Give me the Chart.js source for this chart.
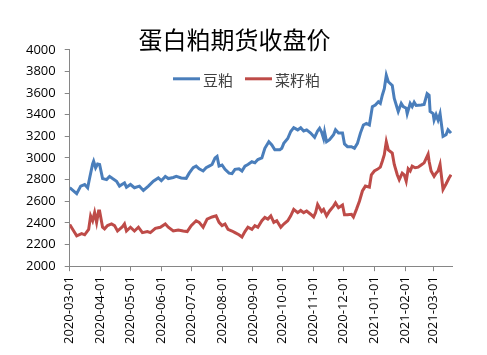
<!DOCTYPE html>
<html>
<head>
<meta charset="utf-8">
<script src="https://cdn.jsdelivr.net/npm/chart.js@4/dist/chart.umd.min.js"></script>
<style>
html,body{margin:0;padding:0;background:#fff;}
#wrap{width:487px;height:355px;}
</style>
</head>
<body>
<div id="wrap"><canvas id="c" width="487" height="355"></canvas></div>
<script>
// Days counted from 2020-03-01
const START_DATE = '2020-03-01';
const monthTicks = [0, 31, 61, 92, 122, 153, 184, 214, 245, 275, 306, 337, 365];

const soyDays = [0,2,7,11,15,18,20,23,24,26,28,30,33,37,40,43,47,50,55,57,61,65,70,74,79,84,89,92,96,99,104,107,112,117,120,124,127,130,134,137,140,143,146,148,150,153,156,160,163,166,170,173,176,179,183,186,189,193,196,200,203,206,211,213,215,219,222,225,229,232,235,238,242,246,249,251,253,255,256,258,261,265,267,270,274,276,279,283,286,289,292,295,298,301,304,307,310,312,314,316,318,320,324,326,329,330,333,335,338,339,342,344,346,348,353,356,359,361,362,365,366,368,370,372,375,378,380,383];
const soyValues = [2725,2710,2670,2740,2755,2725,2815,2945,2970,2910,2945,2940,2810,2800,2830,2810,2785,2740,2770,2730,2755,2725,2740,2700,2740,2785,2815,2790,2830,2810,2820,2830,2815,2812,2860,2910,2925,2900,2880,2910,2925,2940,3000,3015,2925,2935,2895,2860,2855,2895,2900,2880,2925,2940,2965,2955,2985,3000,3090,3150,3120,3075,3075,3090,3135,3180,3245,3280,3260,3280,3250,3260,3230,3190,3250,3275,3240,3180,3240,3150,3170,3215,3260,3230,3230,3130,3105,3105,3090,3135,3230,3305,3320,3305,3475,3490,3520,3505,3580,3640,3765,3705,3670,3550,3460,3430,3505,3475,3460,3410,3505,3475,3515,3485,3490,3495,3595,3580,3430,3410,3350,3400,3350,3410,3200,3215,3260,3230];

const rapeDays = [0,4,7,12,15,19,21,23,25,27,29,30,33,35,38,42,45,48,53,55,57,61,65,69,73,78,81,86,91,96,99,104,109,114,118,122,127,130,134,138,143,147,150,153,156,159,163,166,170,173,176,179,183,186,189,193,196,199,202,205,208,212,215,219,222,225,229,232,235,238,242,245,247,249,253,255,258,261,265,267,270,274,276,279,283,285,288,291,294,297,301,303,306,309,312,314,316,318,320,324,326,329,331,334,336,338,340,342,344,347,350,353,356,360,361,363,366,368,370,372,375,378,381,383];
const rapeValues = [2385,2325,2280,2300,2290,2340,2465,2420,2495,2405,2510,2510,2360,2345,2375,2390,2375,2325,2365,2390,2325,2360,2325,2360,2310,2320,2310,2350,2360,2390,2360,2325,2335,2325,2320,2375,2420,2405,2360,2435,2455,2465,2405,2375,2390,2340,2325,2310,2290,2270,2320,2360,2340,2375,2360,2420,2450,2435,2465,2405,2420,2360,2390,2420,2465,2525,2495,2515,2495,2510,2480,2455,2495,2570,2505,2525,2465,2510,2555,2585,2540,2565,2475,2475,2480,2455,2525,2600,2695,2740,2730,2845,2880,2895,2915,2970,3030,3150,3075,3045,2940,2845,2800,2860,2845,2785,2900,2880,2925,2910,2915,2935,2955,3035,2970,2880,2830,2860,2880,2940,2710,2760,2815,2845];

const seriesNames = ['豆粕', '菜籽粕'];
const titleText = '蛋白粕期货收盘价';

function toPoints(xs, ys){ return xs.map((d,i)=>({x:d, y:ys[i]})); }
function dayLabel(v){
  const d = new Date(Date.parse(START_DATE + 'T00:00:00Z') + v*86400000);
  const p = n => String(n).padStart(2,'0');
  return d.getUTCFullYear() + '-' + p(d.getUTCMonth()+1) + '-' + p(d.getUTCDate());
}

const axisColor = '#868686';
const tickFont = {family: "'Open Sans', 'Noto Sans', sans-serif", size: 13};
const legendFont = "15px 'Noto Sans CJK SC', sans-serif";

// Legend drawn inside the plot area, centred near the top (as in the reference)
const insideLegend = {
  id: 'insideLegend',
  afterDraw(chart) {
    const ctx = chart.ctx;
    const ds = chart.data.datasets;
    const lineW = 27, gap = 3, itemGap = 12;
    ctx.save();
    ctx.font = legendFont;
    ctx.textBaseline = 'middle';
    const widths = ds.map(d => lineW + gap + ctx.measureText(d.label).width);
    const total = widths.reduce((a,b)=>a+b,0) + itemGap*(ds.length-1);
    let x = 246.5 - total/2;
    const y = chart.chartArea.top + 29;
    ds.forEach((d,i) => {
      ctx.strokeStyle = d.borderColor;
      ctx.lineWidth = 3;
      ctx.beginPath();
      ctx.moveTo(x, y);
      ctx.lineTo(x + lineW, y);
      ctx.stroke();
      ctx.fillStyle = '#404040';
      ctx.fillText(d.label, x + lineW + gap, y + 1);
      x += widths[i] + itemGap;
    });
    ctx.restore();
  }
};

new Chart(document.getElementById('c'), {
  type: 'line',
  data: {
    datasets: [
      {label: seriesNames[0], data: toPoints(soyDays, soyValues), borderColor: '#4a7ebb', backgroundColor: '#4a7ebb', borderWidth: 3, pointRadius: 0, tension: 0},
      {label: seriesNames[1], data: toPoints(rapeDays, rapeValues), borderColor: '#be4b48', backgroundColor: '#be4b48', borderWidth: 3, pointRadius: 0, tension: 0}
    ]
  },
  options: {
    responsive: false,
    animation: false,
    events: [],
    layout: {padding: {left: 17, right: 35, top: 0, bottom: 6}},
    plugins: {
      title: {display: true, text: titleText, color: '#000', font: {family: "'Noto Sans CJK SC', sans-serif", size: 24, weight: 'normal'}, padding: {top: 25, bottom: -4}},
      legend: {display: false},
      tooltip: {enabled: false}
    },
    scales: {
      x: {
        type: 'linear', min: 0, max: 384,
        afterBuildTicks: (s) => { s.ticks = monthTicks.map(v => ({value: v})); },
        ticks: {callback: (v) => dayLabel(v), minRotation: 90, maxRotation: 90, autoSkip: false, color: '#000', font: tickFont, padding: 5},
        grid: {drawOnChartArea: false, drawTicks: true, tickLength: 5, color: axisColor},
        border: {color: axisColor}
      },
      y: {
        min: 2000, max: 4000,
        ticks: {stepSize: 200, color: '#000', font: tickFont, padding: 9, callback: (v) => String(v)},
        grid: {drawOnChartArea: false, drawTicks: true, tickLength: 5, color: axisColor},
        border: {color: axisColor}
      }
    }
  },
  plugins: [insideLegend]
});
</script>
</body>
</html>
